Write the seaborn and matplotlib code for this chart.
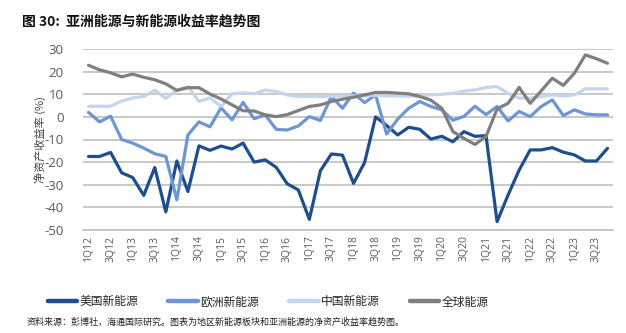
import matplotlib
matplotlib.use("Agg")
import matplotlib.pyplot as plt
import seaborn as sns
import pandas as pd
import numpy as np
from matplotlib.lines import Line2D

quarters = [f"{q}Q{y:02d}" for y in range(12, 24) for q in (1, 2, 3, 4)]

us = [-17.5, -17.5, -15.7, -24.7, -26.8, -34.7, -22.4, -42.0, -19.5, -33.0,
      -12.8, -14.8, -12.9, -14.2, -11.6, -20.0, -19.0, -22.3, -29.6, -32.3,
      -45.3, -23.8, -16.4, -16.9, -29.4, -20.2, 0.0, -3.8, -8.0, -4.6,
      -5.5, -9.8, -8.6, -11.0, -6.5, -8.6, -8.3, -46.3, -34.5, -23.5,
      -14.6, -14.6, -13.6, -15.6, -16.8, -19.5, -19.5, -13.9]
eu = [2.0, -2.2, 0.3, -10.0, -11.6, -13.8, -16.3, -17.5, -36.7, -8.0,
      -2.2, -4.4, 4.0, -1.3, 6.4, -0.8, 0.9, -5.5, -5.8, -4.0,
      0.1, -1.6, 9.0, 3.8, 10.5, 6.3, 9.7, -7.6, -1.0, 3.8,
      6.8, 4.6, 3.1, -1.5, 0.2, 4.7, 1.0, 4.6, -1.8, 2.4,
      0.1, 4.6, 7.5, 0.6, 3.1, 1.3, 0.9, 0.9]
cn = [4.7, 4.7, 4.7, 7.0, 8.4, 9.0, 11.8, 8.2, 11.9, 13.4,
      6.8, 8.4, 4.6, 10.2, 10.6, 10.2, 11.9, 11.2, 9.7, 9.0,
      9.0, 9.0, 9.1, 9.2, 9.3, 9.3, 9.5, 9.3, 9.2, 9.2,
      9.3, 9.7, 10.0, 10.4, 11.4, 11.9, 13.0, 13.4, 10.4, 8.3,
      8.3, 8.9, 9.7, 9.2, 9.7, 12.4, 12.4, 12.4]
gl = [22.8, 20.8, 19.5, 17.7, 18.9, 17.5, 16.4, 14.6, 11.7, 12.9,
      12.9, 10.1, 7.9, 5.3, 2.7, 2.6, 0.9, 0.1, 1.0, 2.8,
      4.6, 5.3, 6.8, 7.8, 8.7, 9.7, 10.8, 10.8, 10.5, 10.2,
      9.0, 7.4, 3.8, -6.5, -9.5, -12.2, -8.7, 3.5, 6.0, 13.0,
      6.0, 11.5, 17.1, 13.9, 19.3, 27.4, 25.7, 23.7]

series_names = ["美国新能源", "欧洲新能源", "中国新能源", "全球能源"]
colors = ["#1F4E8C", "#6E96D2", "#C4D5EE", "#7F7F7F"]

sns.set_theme(style="white")
plt.rcParams["font.family"] = ["Noto Sans CJK SC", "DejaVu Sans"]
plt.rcParams["axes.unicode_minus"] = False

rows = []
for name, vals in zip(series_names, [us, eu, cn, gl]):
    for i, v in enumerate(vals):
        rows.append({"idx": i, "quarter": quarters[i], "series": name, "value": v})
df = pd.DataFrame(rows)

fig = plt.figure(figsize=(6.26, 3.33), dpi=100)
ax = fig.add_axes([83/626, 1-230/333, 530/626, 181/333])

sns.lineplot(data=df, x="idx", y="value", hue="series", hue_order=series_names,
             palette=colors, linewidth=2.3, ax=ax, legend=False, sort=False)

ax.set_xlim(-0.5, len(quarters) - 0.5)
ax.set_ylim(-50, 30)
ax.set_yticks(np.arange(-50, 31, 10))
ax.yaxis.grid(True, color="#BFBFBF", linewidth=1.2)
ax.set_axisbelow(True)
for s in ["top", "right", "left"]:
    ax.spines[s].set_visible(False)
ax.spines["bottom"].set_color("#BFBFBF")
ax.spines["bottom"].set_linewidth(1.2)
ax.set_xticks(range(0, len(quarters), 2))
ax.set_xticklabels(quarters[::2], rotation=90, fontsize=7.5, color="#595959",
                   family=["Open Sans", "DejaVu Sans"])
ax.tick_params(axis="x", length=0, pad=4)
ax.tick_params(axis="y", length=0, pad=14, labelsize=9.5, labelcolor="#595959")
for t in ax.get_yticklabels():
    t.set_family(["Open Sans", "DejaVu Sans"])
ax.set_xlabel("")
ax.set_ylabel("")

fig.text(40/626, 1-140/333, "净资产收益率 (%)", rotation=90, ha="center", va="center",
         fontsize=8, color="#404040")

fig.text(22/626, 1-22/333, "图 30:  亚洲能源与新能源收益率趋势图", fontsize=10,
         fontweight="bold", ha="left", va="center", color="#111111")

handles = [Line2D([0], [0], color=c, linewidth=3.2) for c in colors]
fig.legend(handles, series_names, loc="center", bbox_to_anchor=(268/626, 1-302/333),
           ncol=4, frameon=False, fontsize=8.5, handlelength=2.5, handletextpad=0.15,
           columnspacing=2.6, borderpad=0, borderaxespad=0)

fig.text(27/626, 1-322/333,
         "资料来源：彭博社，海通国际研究。图表为地区新能源板块和亚洲能源的净资产收益率趋势图。",
         fontsize=6.5, ha="left", va="center", color="#222222")

fig.savefig("out.png", dpi=100)
